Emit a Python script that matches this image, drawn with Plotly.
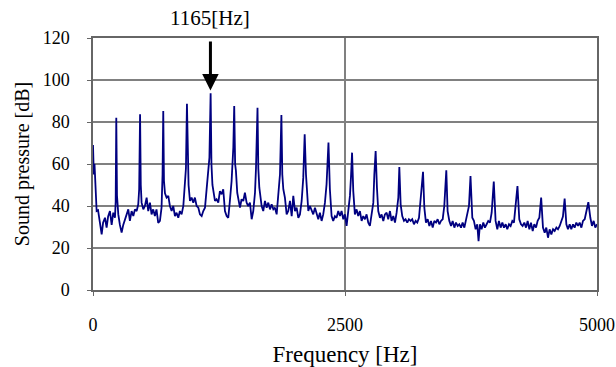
import plotly.graph_objects as go

freq = [0, 8, 15, 25, 36, 50, 70, 86, 100, 119, 135, 150, 168, 185, 201, 218, 225, 231, 238, 251, 267, 284, 300, 317, 333, 350, 366, 383, 400, 416, 433, 449, 458, 467, 474, 482, 499, 515, 532, 548, 565, 581, 597, 614, 630, 647, 664, 680, 690, 697, 704, 714, 730, 747, 763, 780, 796, 813, 829, 846, 862, 879, 896, 912, 922, 932, 940, 948, 962, 978, 995, 1011, 1028, 1045, 1061, 1078, 1094, 1111, 1127, 1144, 1155, 1167, 1175, 1185, 1194, 1210, 1226, 1243, 1259, 1276, 1292, 1309, 1326, 1342, 1358, 1375, 1392, 1401, 1410, 1418, 1431, 1445, 1458, 1474, 1491, 1507, 1524, 1540, 1557, 1574, 1590, 1607, 1617, 1632, 1640, 1650, 1673, 1689, 1706, 1723, 1739, 1756, 1772, 1789, 1805, 1822, 1838, 1855, 1869, 1878, 1888, 1904, 1921, 1937, 1954, 1971, 1987, 2004, 2020, 2037, 2053, 2070, 2086, 2100, 2113, 2126, 2136, 2152, 2169, 2185, 2202, 2218, 2235, 2251, 2268, 2284, 2301, 2317, 2336, 2350, 2357, 2367, 2383, 2400, 2416, 2433, 2450, 2466, 2483, 2499, 2516, 2532, 2549, 2559, 2570, 2582, 2598, 2615, 2631, 2648, 2665, 2681, 2698, 2714, 2731, 2747, 2764, 2781, 2791, 2804, 2817, 2830, 2847, 2863, 2880, 2896, 2913, 2929, 2946, 2962, 2979, 2996, 3012, 3029, 3039, 3052, 3068, 3085, 3101, 3118, 3134, 3151, 3167, 3184, 3201, 3217, 3234, 3254, 3274, 3287, 3303, 3320, 3337, 3353, 3370, 3386, 3403, 3419, 3436, 3452, 3469, 3485, 3505, 3518, 3535, 3552, 3568, 3585, 3601, 3618, 3634, 3651, 3667, 3684, 3700, 3717, 3730, 3745, 3763, 3779, 3796, 3812, 3825, 3839, 3855, 3872, 3888, 3905, 3921, 3938, 3955, 3976, 3994, 4011, 4027, 4044, 4061, 4077, 4094, 4110, 4127, 4143, 4160, 4176, 4193, 4211, 4229, 4246, 4262, 4279, 4296, 4312, 4329, 4345, 4362, 4378, 4395, 4411, 4428, 4446, 4464, 4481, 4497, 4514, 4530, 4547, 4564, 4580, 4597, 4613, 4630, 4646, 4662, 4679, 4696, 4712, 4729, 4745, 4762, 4778, 4795, 4812, 4828, 4845, 4861, 4878, 4897, 4914, 4934, 4950, 4967, 4983, 5000]

spl_db = [69, 55, 60, 45, 37.6, 38, 30, 26.5, 32, 34.4, 29.7, 35, 37.6, 31, 36.8, 34.4, 42, 82, 45, 36, 31, 27.3, 31, 33.7, 36, 38.4, 32.9, 37.6, 35.2, 38.4, 37.6, 40.8, 48, 83.7, 50, 41.6, 38.4, 40, 44, 37.6, 41.6, 36, 38.4, 35.2, 38.4, 32, 32.9, 39.2, 55, 85.2, 52, 46, 44, 44.8, 40, 37.6, 40, 35.2, 36.8, 34.4, 37.6, 36, 40, 50, 58, 88.7, 58, 50, 42.4, 44, 41.6, 44, 40, 39.2, 36, 35.2, 37.6, 39.2, 47.9, 59.8, 63, 93.7, 60, 50, 46.3, 42.4, 43.2, 41.6, 47.1, 45.6, 48, 37.6, 35.2, 34.4, 42.4, 51.9, 67.8, 87.6, 60, 56.7, 46.3, 42, 39.2, 43.2, 42.4, 46.3, 41.6, 40, 41.6, 33.7, 37.6, 46.3, 58, 86.8, 58, 48.7, 40, 37.6, 42.4, 39.2, 41.6, 38.4, 40.8, 38.4, 39.2, 36, 44, 55.1, 83.3, 55, 48, 44, 36, 37.6, 42.4, 35.2, 44.8, 37.6, 39.2, 34.4, 36, 42.4, 53.5, 74.1, 55, 42.4, 37.6, 40, 37.6, 36, 39.2, 36.8, 33.7, 36.8, 32.9, 36, 41.6, 50.3, 70.2, 48, 44, 35.2, 32.9, 35.2, 34.4, 37.6, 35.2, 37.6, 33.7, 36, 30.5, 37.6, 44.8, 53.5, 65.4, 47.1, 36, 38.4, 35.2, 37.6, 32.9, 35.2, 33.7, 36, 32.1, 30.5, 36.8, 41.6, 55, 66.2, 48.7, 37.6, 34.4, 36, 32.9, 36, 36.8, 33.7, 37.6, 32.9, 35.2, 32.1, 36.8, 44, 58.6, 40.8, 35.2, 32.9, 33.7, 32.1, 33.7, 32.9, 33.7, 31.3, 32.9, 32.1, 34.4, 44, 56.3, 39.2, 32.1, 33.7, 30.5, 32.9, 29.7, 32.9, 32.1, 33.7, 31.3, 32.9, 33.7, 40, 57, 37.6, 32.9, 30.5, 32.9, 29.7, 32.1, 30.5, 31.3, 29.7, 32.1, 29.7, 32.9, 36, 40, 54.3, 34.4, 32.9, 28.9, 31.3, 23.3, 31.3, 28.9, 32.1, 29.7, 31.3, 32.9, 32.1, 36.8, 51.6, 32.9, 28.9, 32.9, 29.7, 32.1, 29.7, 31.3, 28.9, 31.3, 30.5, 32.9, 32.1, 40, 49.5, 33.7, 31.3, 30.5, 32.1, 29.7, 32.9, 28.9, 32.1, 28.1, 31.3, 29.7, 32.9, 34.4, 44, 29.7, 27.3, 29.7, 24.9, 28.9, 26.5, 28.9, 28.1, 29.7, 28.9, 30.5, 32.9, 35, 43.5, 31.3, 28.9, 31.3, 28.9, 31.3, 29.7, 32.1, 30.5, 32.1, 29.7, 32.9, 33.7, 37.6, 41.8, 34.4, 30.5, 32.9, 29.7, 31.3]

x_ticks = [0, 2500, 5000]
y_ticks = [0, 20, 40, 60, 80, 100, 120]
marked_freq = 1165
marked_label = "1165[Hz]"

FONT = "Liberation Serif, Times New Roman, DejaVu Serif, serif"

fig = go.Figure()
fig.add_trace(go.Scatter(x=freq, y=spl_db, mode="lines",
                         line=dict(color="#000080", width=1.8),
                         showlegend=False, hoverinfo="skip"))

fig.add_annotation(x=marked_freq, y=95, ax=marked_freq, ay=119,
                   xref="x", yref="y", axref="x", ayref="y",
                   text="", showarrow=True, arrowhead=2, arrowsize=1.1,
                   arrowwidth=3, arrowcolor="black")
fig.add_annotation(x=marked_freq, y=1.079, xref="x", yref="paper",
                   text=marked_label, showarrow=False,
                   font=dict(family=FONT, size=21, color="black"),
                   xanchor="center", yanchor="middle")

axis_common = dict(showline=True, mirror=True, linecolor="#666666", linewidth=1.5,
                   showgrid=True, gridcolor="#808080", gridwidth=1.5,
                   zeroline=False, ticks="outside", ticklen=4, tickcolor="#666666",
                   automargin=False,
                   tickfont=dict(family=FONT, size=18, color="black"))

fig.update_xaxes(range=[0, 5000], tickvals=x_ticks, ticklabelstandoff=14,
                 title=dict(text="Frequency [Hz]", font=dict(family=FONT, size=23, color="black"), standoff=16),
                 **axis_common)
fig.update_yaxes(range=[0, 120], tickvals=y_ticks, ticklabelstandoff=14,
                 title=dict(text="Sound pressure [dB]", font=dict(family=FONT, size=20, color="black"), standoff=8),
                 **axis_common)

fig.update_layout(width=616, height=367, margin=dict(l=93, r=19, t=38, b=77),
                  paper_bgcolor="white", plot_bgcolor="white",
                  font=dict(family=FONT, color="black"))

fig.write_html("out.html")
